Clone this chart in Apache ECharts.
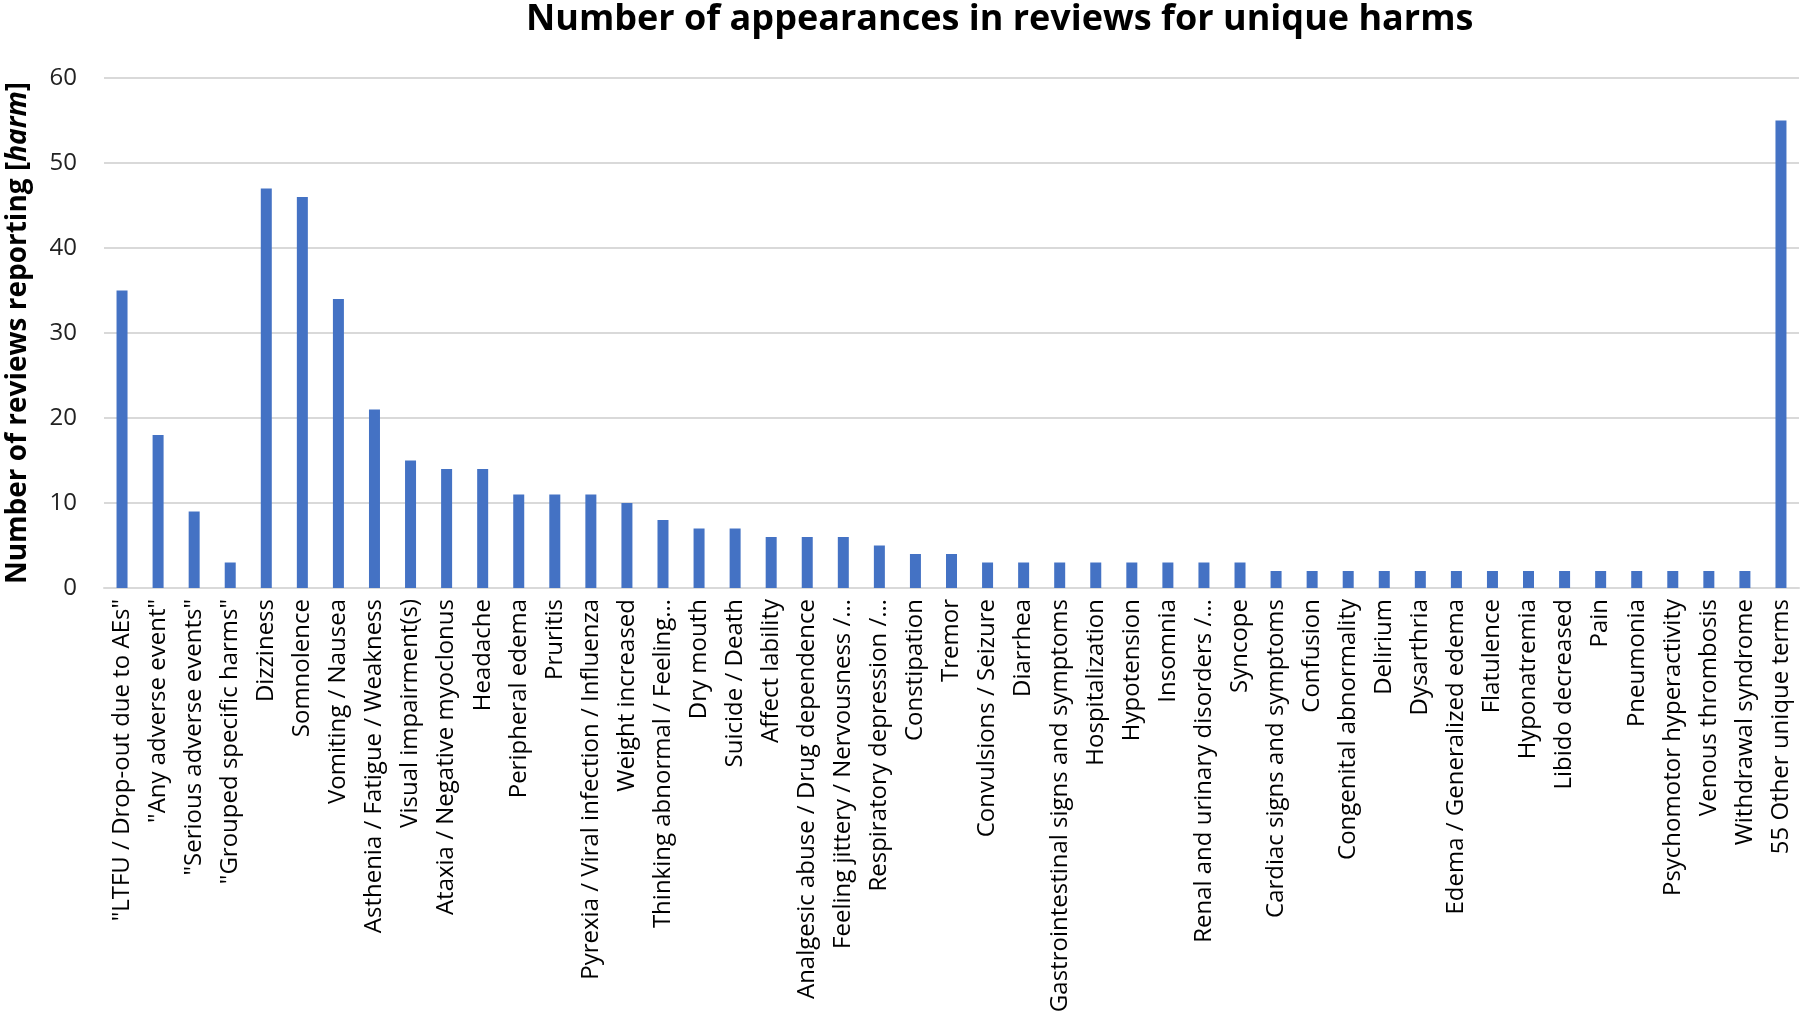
<!DOCTYPE html>
<html>
<head>
<meta charset="utf-8">
<title>Number of appearances in reviews for unique harms</title>
<script src="https://cdn.jsdelivr.net/npm/echarts@6/dist/echarts.min.js"></script>
<style>
    html, body { margin: 0; padding: 0; background: #fff; }
    #charts { width: 1800px; height: 1020px; }
</style>
</head>
<body>
<div id="charts"></div>
<script>
    var harms = [
        '"LTFU / Drop-out due to AEs"', '"Any adverse event"', '"Serious adverse events"',
        '"Grouped specific harms"', 'Dizziness', 'Somnolence', 'Vomiting / Nausea',
        'Asthenia / Fatigue / Weakness', 'Visual impairment(s)', 'Ataxia / Negative myoclonus',
        'Headache', 'Peripheral edema', 'Pruritis', 'Pyrexia / Viral infection / Influenza',
        'Weight increased', 'Thinking abnormal / Feeling\u2026', 'Dry mouth', 'Suicide / Death',
        'Affect lability', 'Analgesic abuse / Drug dependence', 'Feeling jittery / Nervousness /\u2026',
        'Respiratory depression /\u2026', 'Constipation', 'Tremor', 'Convulsions / Seizure',
        'Diarrhea', 'Gastrointestinal signs and symptoms', 'Hospitalization', 'Hypotension',
        'Insomnia', 'Renal and urinary disorders /\u2026', 'Syncope', 'Cardiac signs and symptoms',
        'Confusion', 'Congenital abnormality', 'Delirium', 'Dysarthria', 'Edema / Generalized edema',
        'Flatulence', 'Hyponatremia', 'Libido decreased', 'Pain', 'Pneumonia',
        'Psychomotor hyperactivity', 'Venous thrombosis', 'Withdrawal syndrome', '55 Other unique terms'
    ];
    var reviewCounts = [
        35, 18, 9, 3, 47, 46, 34, 21, 15, 14,
        14, 11, 11, 11, 10, 8, 7, 7, 6, 6,
        6, 5, 4, 4, 3, 3, 3, 3, 3, 3,
        3, 3, 2, 2, 2, 2, 2, 2, 2, 2,
        2, 2, 2, 2, 2, 2, 55
    ];
    var yTicks = [0, 10, 20, 30, 40, 50, 60];

    var myChart = echarts.init(document.getElementById('charts'));
    var font = '"Open Sans", "DejaVu Sans", sans-serif';

    var option = {
        backgroundColor: '#fff',
        title: {
            text: 'Number of appearances in reviews for unique harms',
            left: 521,
            top: -3,
            textStyle: {
                fontFamily: font,
                fontWeight: 'bold',
                fontSize: 36,
                color: '#000'
            }
        },
        grid: {
            left: 104,
            right: 1,
            top: 78,
            bottom: 432,
            outerBoundsMode: 'none'
        },
        xAxis: {
            type: 'category',
            data: harms,
            axisTick: { show: false },
            axisLine: { lineStyle: { color: '#d9d9d9', width: 2 } },
            axisLabel: {
                interval: 0,
                rotate: 90,
                margin: 11,
                fontFamily: font,
                fontSize: 24,
                color: '#000'
            }
        },
        yAxis: {
            type: 'value',
            min: yTicks[0],
            max: yTicks[yTicks.length - 1],
            interval: 10,
            name: 'Number of reviews reporting [{i|harm}]',
            nameLocation: 'middle',
            nameGap: 72,
            nameTextStyle: {
                fontFamily: font,
                fontWeight: 'bold',
                fontSize: 28,
                color: '#000',
                rich: {
                    i: {
                        fontFamily: font,
                        fontWeight: 'bold',
                        fontStyle: 'italic',
                        fontSize: 28,
                        color: '#000'
                    }
                }
            },
            axisLine: { show: false },
            axisTick: { show: false },
            splitLine: { lineStyle: { color: '#d9d9d9', width: 2 } },
            axisLabel: {
                margin: 27,
                fontFamily: font,
                fontSize: 24,
                color: '#222'
            }
        },
        series: [{
            type: 'bar',
            data: reviewCounts,
            barWidth: 11,
            itemStyle: { color: '#4472c4' }
        }]
    };
    myChart.setOption(option, true);
</script>
</body>
</html>
